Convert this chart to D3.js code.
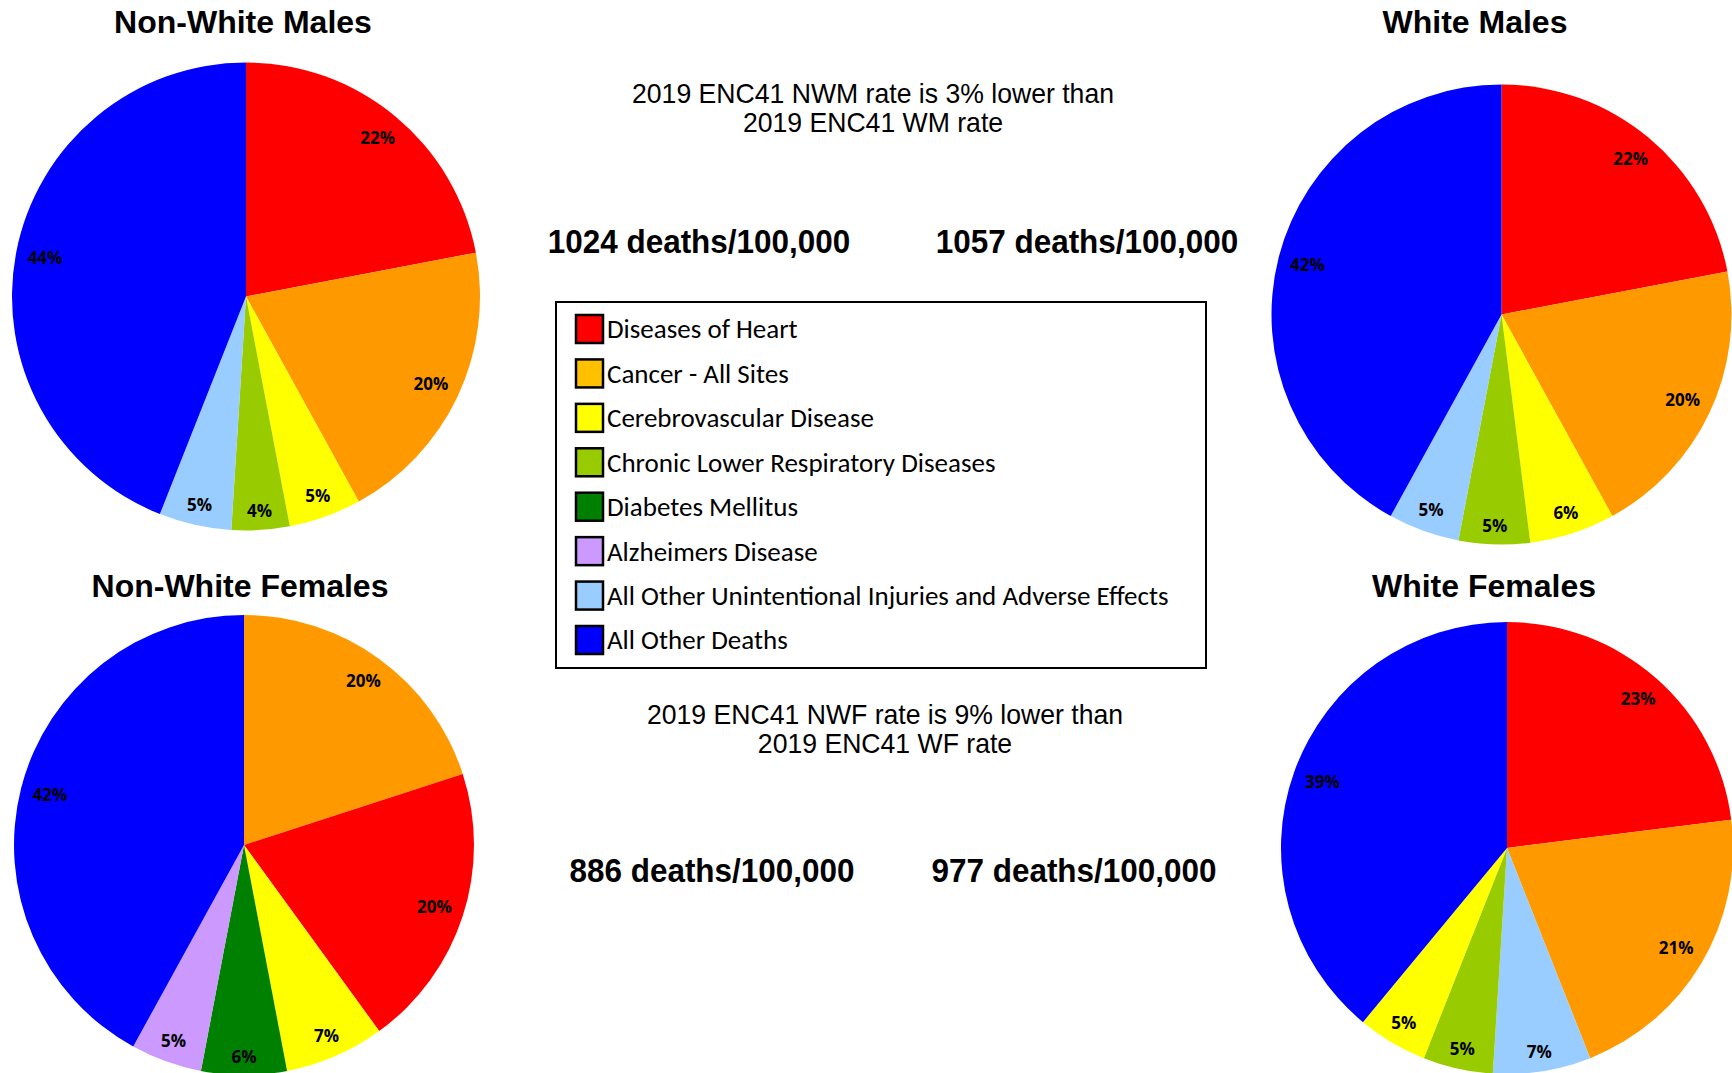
<!DOCTYPE html>
<html>
<head>
<meta charset="utf-8">
<script src="https://cdn.jsdelivr.net/npm/d3@7"></script>
<style>
  body { margin: 0; background: #fff; }
  svg { display: block; }
</style>
</head>
<body>
<svg id="chart" width="1732" height="1073"></svg>
<script>
// causes of death, legend order
var causes = [
  'Diseases of Heart',
  'Cancer - All Sites',
  'Cerebrovascular Disease',
  'Chronic Lower Respiratory Diseases',
  'Diabetes Mellitus',
  'Alzheimers Disease',
  'All Other Unintentional Injuries and Adverse Effects',
  'All Other Deaths'
];
var pieColors = ['#ff0000', '#ff9900', '#ffff00', '#99cc00', '#008000', '#cc99ff', '#99ccff', '#0000ff'];
var legendColors = ['#ff0000', '#ffc000', '#ffff00', '#99cc00', '#008000', '#cc99ff', '#99ccff', '#0000ff'];

// each pie, slices clockwise from 12 o'clock (index into causes, percent)
var nwmCauses = [0, 1, 2, 3, 6, 7];
var nwmValues = [22, 20, 5, 4, 5, 44];
var wmCauses = [0, 1, 2, 3, 6, 7];
var wmValues = [22, 20, 6, 5, 5, 42];
var nwfCauses = [1, 0, 2, 4, 5, 7];
var nwfValues = [20, 20, 7, 6, 5, 42];
var wfCauses = [0, 1, 6, 3, 2, 7];
var wfValues = [23, 21, 7, 5, 5, 39];

var groupTitles = ['Non-White Males', 'White Males', 'Non-White Females', 'White Females'];
var rateTexts = [
  ['2019 ENC41 NWM rate is 3% lower than', '2019 ENC41 WM rate'],
  ['2019 ENC41 NWF rate is 9% lower than', '2019 ENC41 WF rate']
];
var deathRates = ['1024 deaths/100,000', '1057 deaths/100,000', '886 deaths/100,000', '977 deaths/100,000'];

var svg = d3.select('#chart');

var pies = [
  { title: groupTitles[0], causes: nwmCauses, values: nwmValues, cx: 246, cy: 296.5, r: 234, tx: 243, ty: 33 },
  { title: groupTitles[1], causes: wmCauses, values: wmValues, cx: 1501.5, cy: 314.5, r: 230, tx: 1475, ty: 33 },
  { title: groupTitles[2], causes: nwfCauses, values: nwfValues, cx: 244, cy: 845, r: 230, tx: 240, ty: 597 },
  { title: groupTitles[3], causes: wfCauses, values: wfValues, cx: 1507, cy: 848, r: 226, tx: 1484, ty: 597 }
];

var pieLayout = d3.pie().sort(null).value(function(d) { return d.value; });

var drawPie = function(p) {
  var data = p.values.map(function(v, i) { return { cause: p.causes[i], value: v }; });
  var arcs = pieLayout(data);
  var arc = d3.arc().innerRadius(0).outerRadius(p.r);
  var g = svg.append('g').attr('transform', 'translate(' + p.cx + ',' + p.cy + ')');

  g.selectAll('path.slice').data(arcs).enter().append('path')
    .attr('class', 'slice')
    .attr('d', arc)
    .attr('fill', function(d) { return pieColors[d.data.cause]; });

  // labels sit just inside the rim ("inside end")
  g.selectAll('text.pct').data(arcs).enter().append('text')
    .attr('class', 'pct')
    .attr('text-anchor', 'middle')
    .attr('dy', '0.36em')
    .style('font-family', '"Open Sans", Lato, sans-serif')
    .style('font-weight', 700)
    .style('font-size', '17px')
    .style('fill', '#000')
    .text(function(d) { return d.data.value + '%'; })
    .each(function(d) {
      var w = this.getComputedTextLength();
      var a = (d.startAngle + d.endAngle) / 2;
      var s = Math.sin(a), c = -Math.cos(a);
      var dist = p.r - 11 - (w / 2) * Math.abs(s) - 7 * Math.abs(c);
      d3.select(this).attr('x', dist * s).attr('y', dist * c);
    });

  svg.append('text')
    .attr('x', p.tx).attr('y', p.ty)
    .attr('text-anchor', 'middle')
    .style('font-family', '"Liberation Sans", Arial, sans-serif')
    .style('font-weight', 700)
    .style('font-size', '32px')
    .text(p.title);
};

pies.forEach(drawPie);

// condensed text: squeeze the natural width by a factor
var squeeze = function(sel, factor) {
  sel.each(function() {
    var w = this.getComputedTextLength();
    d3.select(this).attr('textLength', w * factor).attr('lengthAdjust', 'spacingAndGlyphs');
  });
};

var rateLines = [
  { lines: rateTexts[0], x: 873, y: 103 },
  { lines: rateTexts[1], x: 885, y: 724 }
];
rateLines.forEach(function(r) {
  r.lines.forEach(function(t, i) {
    svg.append('text')
      .attr('x', r.x).attr('y', r.y + i * 29)
      .attr('text-anchor', 'middle')
      .style('font-family', '"Liberation Sans", Arial, sans-serif')
      .style('font-size', '28px')
      .text(t)
      .call(squeeze, 0.95);
  });
});

var rateSpots = [[699, 253], [1087, 253], [712, 882], [1074, 882]];
deathRates.forEach(function(t, i) {
  svg.append('text')
    .attr('x', rateSpots[i][0]).attr('y', rateSpots[i][1])
    .attr('text-anchor', 'middle')
    .style('font-family', '"Liberation Sans", Arial, sans-serif')
    .style('font-weight', 700)
    .style('font-size', '34px')
    .text(t)
    .call(squeeze, 0.925);
});

// legend
var legend = svg.append('g');
legend.append('rect')
  .attr('x', 556).attr('y', 302)
  .attr('width', 650).attr('height', 366)
  .attr('fill', '#fff')
  .attr('stroke', '#000')
  .attr('stroke-width', 2);

var rowY = d3.scalePoint().domain(d3.range(causes.length)).range([329, 640]);

var rows = legend.selectAll('g.item').data(causes).enter().append('g')
  .attr('class', 'item')
  .attr('transform', function(d, i) { return 'translate(0,' + rowY(i) + ')'; });

rows.append('rect')
  .attr('x', 576).attr('y', -14)
  .attr('width', 27).attr('height', 28)
  .attr('fill', function(d, i) { return legendColors[i]; })
  .attr('stroke', '#000')
  .attr('stroke-width', 2.5);

rows.append('text')
  .attr('x', 607).attr('y', 0)
  .attr('dy', '0.35em')
  .style('font-family', 'Carlito, Lato, sans-serif')
  .style('font-size', '27px')
  .text(function(d) { return d; });
</script>
</body>
</html>
